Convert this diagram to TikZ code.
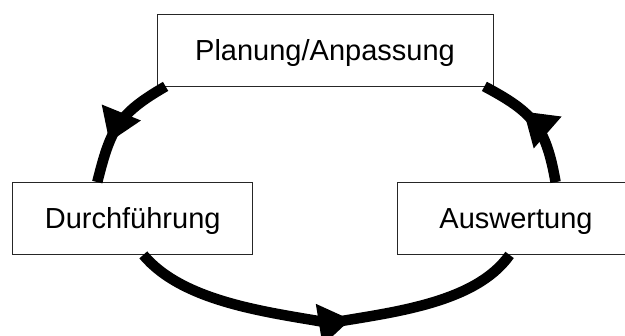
\documentclass[tikz,border=0pt]{standalone}
\usepackage{fontspec}
\setmainfont{Liberation Sans}
\usetikzlibrary{arrows.meta,decorations.markings}

\begin{document}
\begin{tikzpicture}[x=1pt,y=1pt,
  phase/.style={draw=black!85, line width=0.8pt, fill=white, rectangle, inner sep=0pt,
    minimum height=72pt, text height=21pt, text depth=0pt, font=\fontsize{29}{34}\selectfont},
  loopline/.style={line width=10.5pt, postaction={decorate},
    decoration={markings, mark=at position #1 with {\arrow{Triangle[length=32pt,width=40pt]}}}}]
\clip (0,0) rectangle (625,-336);
% phases of the cycle
\node[phase, minimum width=336pt] (plan) at (325,-50) {Planung/Anpassung};
\node[phase, minimum width=240pt] (durch) at (132.7,-218.5) {Durchführung};
\node[phase, minimum width=238pt] (ausw) at (516,-218.5) {Auswertung};
\coordinate (low) at (330,-323);

% arcs between the phases
\draw[loopline=0.66] ([xshift=9pt]plan.south west) to[out=210,in=76,looseness=1.2] ([xshift=85pt]durch.north west);
\draw[loopline=0.56] ([xshift=131pt]durch.south west) to[out=-50,in=170,looseness=0.8] (low)
  to[out=10,in=-125,looseness=0.8] ([xshift=113pt]ausw.south west);
\draw[loopline=0.63] ([xshift=159pt]ausw.north west) to[out=100,in=-28,looseness=1.2] ([xshift=-9pt]plan.south east);
\end{tikzpicture}
\end{document}
